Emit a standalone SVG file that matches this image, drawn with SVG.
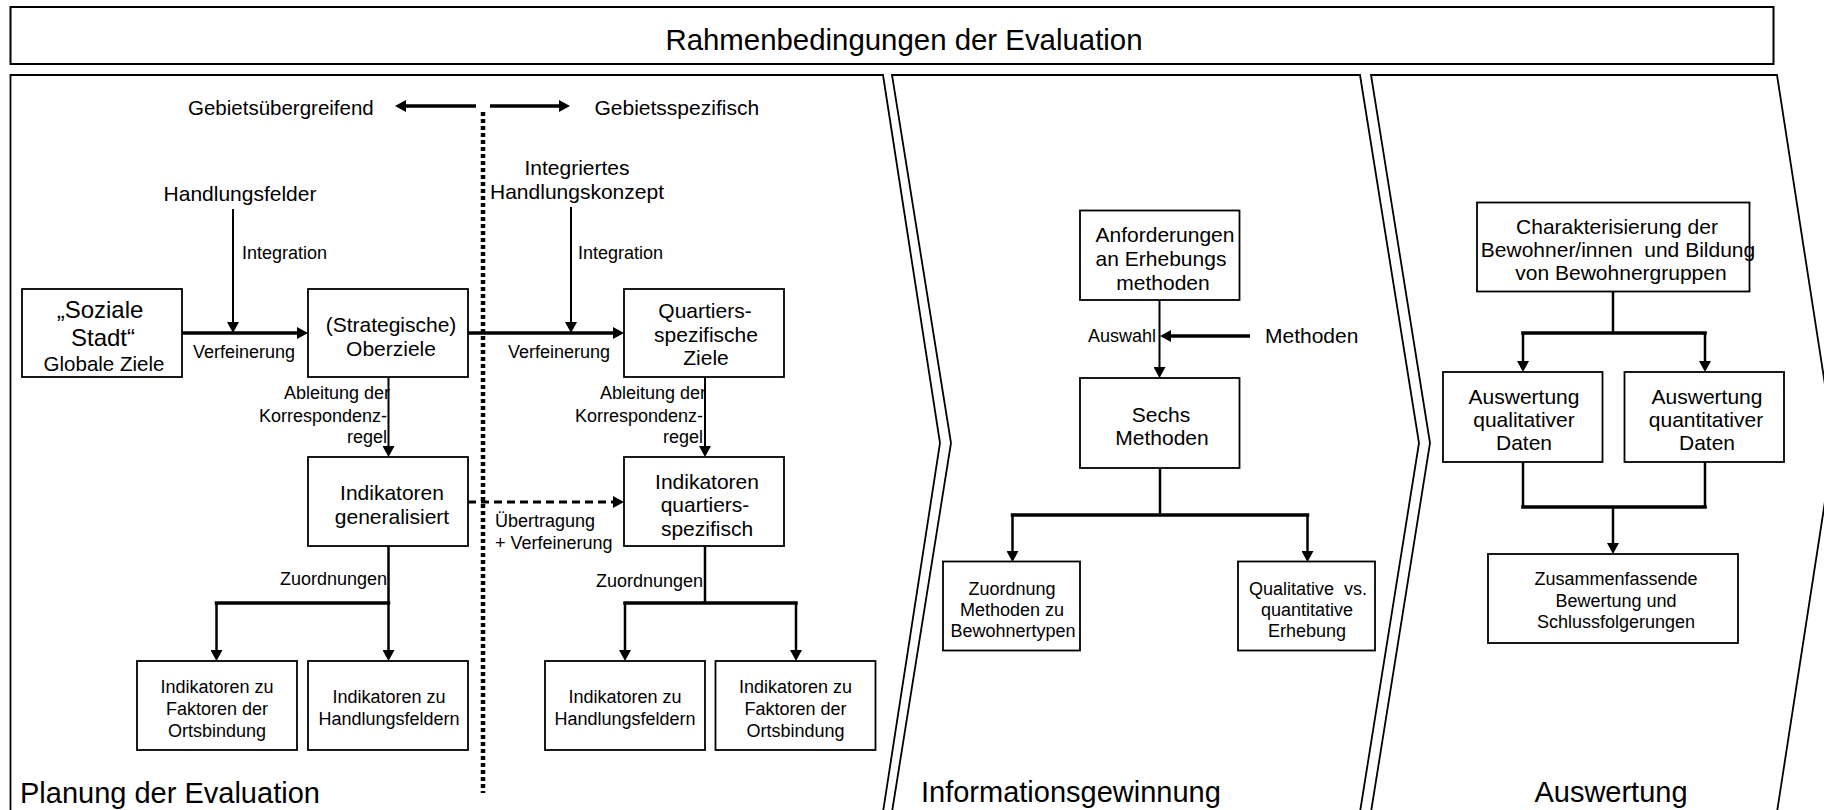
<svg xmlns="http://www.w3.org/2000/svg" width="1824" height="810" viewBox="0 0 1824 810">
<style>
text{font-family:"Liberation Sans",Arial,Helvetica,sans-serif;fill:#000}
.c{text-anchor:middle}
.e{text-anchor:end}
.t{font-size:29.4px}
.sec{font-size:29px}
.m{font-size:21px}
.s{font-size:18px}
.box{fill:#fff;stroke:#000;stroke-width:1.8}
.panel{fill:none;stroke:#000;stroke-width:1.8;stroke-linejoin:miter}
.thick{fill:none;stroke:#000;stroke-width:3.5}
.thin{fill:none;stroke:#000;stroke-width:2}
.mid{fill:none;stroke:#000;stroke-width:2.5}
</style>
<defs>
<marker id="ah" viewBox="0 0 11 12" refX="5" refY="6" markerWidth="11" markerHeight="12" markerUnits="userSpaceOnUse" orient="auto"><path d="M0,0 L11,6 L0,12 z" fill="#000"/></marker>
</defs>
<rect width="1824" height="810" fill="#fff"/>

<g id="frame">
<rect id="rahmen" x="10.5" y="7" width="1763" height="57" fill="#fff" stroke="#000" stroke-width="2"/>
<text class="t c" x="904" y="50">Rahmenbedingungen der Evaluation</text>
<path class="panel" d="M10.5,812 V75 H883 L940,443 L883,812"/>
<path class="panel" d="M892,812 L951,443 L892,75 H1360 L1419,443 L1360,812"/>
<path class="panel" d="M1371,812 L1430,443 L1371,75 H1777 L1834,443 L1777,812"/>
<text class="sec" x="20" y="803">Planung der Evaluation</text>
<text class="sec" x="921" y="802">Informationsgewinnung</text>
<text class="sec c" x="1611" y="802">Auswertung</text>
</g>

<g id="connectors">
<path class="thick" d="M476,106 H401" marker-end="url(#ah)"/>
<path class="thick" d="M490,106 H564" marker-end="url(#ah)"/>
<path d="M483,112 V793" fill="none" stroke="#000" stroke-width="4.5" stroke-dasharray="4 3"/>
<path class="thick" d="M182,333 H302" marker-end="url(#ah)"/>
<path class="thin" d="M233,209 V327" marker-end="url(#ah)"/>
<path class="thick" d="M468,333 H618" marker-end="url(#ah)"/>
<path class="thin" d="M571,207 V327" marker-end="url(#ah)"/>
<path class="thin" d="M388.5,377 V451" marker-end="url(#ah)"/>
<path class="thin" d="M705,377 V451" marker-end="url(#ah)"/>
<path d="M468,502 H618" fill="none" stroke="#000" stroke-width="3" stroke-dasharray="8 5" marker-end="url(#ah)"/>
<path class="mid" d="M388.5,546 V655" marker-end="url(#ah)"/>
<path class="thick" d="M216.5,603 H388.5" stroke-linecap="square"/>
<path class="mid" d="M216.5,603 V655" marker-end="url(#ah)"/>
<path class="mid" d="M705,546 V603"/>
<path class="thick" d="M625,603 H796" stroke-linecap="square"/>
<path class="mid" d="M625,603 V655" marker-end="url(#ah)"/>
<path class="mid" d="M796,603 V655" marker-end="url(#ah)"/>
<path class="thin" d="M1159.5,300 V372" marker-end="url(#ah)"/>
<path class="thick" d="M1250,336 H1166" marker-end="url(#ah)"/>
<path class="mid" d="M1160,468 V515"/>
<path class="thick" d="M1012.5,515 H1307.5" stroke-linecap="square"/>
<path class="mid" d="M1012.5,515 V556" marker-end="url(#ah)"/>
<path class="mid" d="M1307.5,515 V556" marker-end="url(#ah)"/>
<path class="mid" d="M1613,292 V333"/>
<path class="thick" d="M1523,333 H1705" stroke-linecap="square"/>
<path class="mid" d="M1523,333 V366" marker-end="url(#ah)"/>
<path class="mid" d="M1705,333 V366" marker-end="url(#ah)"/>
<path class="mid" d="M1523,462 V507"/>
<path class="mid" d="M1705,462 V507"/>
<path class="thick" d="M1523,507 H1705" stroke-linecap="square"/>
<path class="mid" d="M1613,507 V548" marker-end="url(#ah)"/>
</g>

<g id="labels">
<text class="m" x="188" y="115" style="font-size:20.5px">Gebietsübergreifend</text>
<text class="m" x="594.5" y="115">Gebietsspezifisch</text>
<text class="m c" x="240" y="201">Handlungsfelder</text>
<text class="m c" x="577" y="175">Integriertes</text>
<text class="m c" x="577" y="199">Handlungskonzept</text>
<text class="s" x="242" y="259">Integration</text>
<text class="s" x="578" y="259">Integration</text>
<text class="s c" x="244" y="358">Verfeinerung</text>
<text class="s c" x="559" y="358">Verfeinerung</text>
<text class="s e" x="390" y="399">Ableitung der</text>
<text class="s e" x="387" y="421.5">Korrespondenz-</text>
<text class="s e" x="387" y="443">regel</text>
<text class="s e" x="706" y="399">Ableitung der</text>
<text class="s e" x="703" y="421.5">Korrespondenz-</text>
<text class="s e" x="703" y="443">regel</text>
<text class="s" x="495" y="527">Übertragung</text>
<text class="s" x="495" y="548.5">+ Verfeinerung</text>
<text class="s e" x="387" y="585">Zuordnungen</text>
<text class="s e" x="703" y="587">Zuordnungen</text>
<text class="s e" x="1156" y="342">Auswahl</text>
<text class="m" x="1265" y="343">Methoden</text>
</g>

<g id="n-soziale-stadt">
<rect class="box" x="22" y="289" width="160" height="88"/>
<text class="c" x="100" y="318" style="font-size:24px">„Soziale</text>
<text class="c" x="103" y="346" style="font-size:24px">Stadt“</text>
<text class="c" x="104" y="371" style="font-size:20.5px">Globale Ziele</text>
</g>
<g id="n-oberziele">
<rect class="box" x="308" y="289" width="160" height="88"/>
<text class="m c" x="391" y="331.5">(Strategische)</text>
<text class="m c" x="391" y="355.5">Oberziele</text>
</g>
<g id="n-quartiersziele">
<rect class="box" x="624" y="289" width="160" height="88"/>
<text class="m c" x="705" y="318">Quartiers-</text>
<text class="m c" x="706" y="341.5">spezifische</text>
<text class="m c" x="706" y="365">Ziele</text>
</g>
<g id="n-ind-generalisiert">
<rect class="box" x="308" y="457" width="160" height="89"/>
<text class="m c" x="392" y="500">Indikatoren</text>
<text class="m c" x="392" y="523.5">generalisiert</text>
</g>
<g id="n-ind-quartiersspezifisch">
<rect class="box" x="624" y="457" width="160" height="89"/>
<text class="m c" x="707" y="489">Indikatoren</text>
<text class="m c" x="705" y="512">quartiers-</text>
<text class="m c" x="707" y="535.5">spezifisch</text>
</g>
<g id="n-l-ortsbindung">
<rect class="box" x="137" y="661" width="160" height="89"/>
<text class="s c" x="217" y="692.5">Indikatoren zu</text>
<text class="s c" x="217" y="715">Faktoren der</text>
<text class="s c" x="217" y="736.5">Ortsbindung</text>
</g>
<g id="n-l-handlungsfelder">
<rect class="box" x="308" y="661" width="160" height="89"/>
<text class="s c" x="389" y="703">Indikatoren zu</text>
<text class="s c" x="389" y="724.5">Handlungsfeldern</text>
</g>
<g id="n-r-handlungsfelder">
<rect class="box" x="545" y="661" width="160" height="89"/>
<text class="s c" x="625" y="703">Indikatoren zu</text>
<text class="s c" x="625" y="724.5">Handlungsfeldern</text>
</g>
<g id="n-r-ortsbindung">
<rect class="box" x="715.5" y="661" width="160" height="89"/>
<text class="s c" x="795.5" y="692.5">Indikatoren zu</text>
<text class="s c" x="795.5" y="715">Faktoren der</text>
<text class="s c" x="795.5" y="736.5">Ortsbindung</text>
</g>

<g id="n-anforderungen">
<rect class="box" x="1080" y="210.5" width="159.5" height="89.5"/>
<text class="m c" x="1165" y="241.5">Anforderungen</text>
<text class="m c" x="1161" y="265.5">an Erhebungs</text>
<text class="m c" x="1163" y="289.5">methoden</text>
</g>
<g id="n-sechs-methoden">
<rect class="box" x="1080" y="378" width="159.5" height="90"/>
<text class="m c" x="1161" y="421.5">Sechs</text>
<text class="m c" x="1162" y="445">Methoden</text>
</g>
<g id="n-zuordnung-methoden">
<rect class="box" x="943" y="561.5" width="137" height="89"/>
<text class="s c" x="1012" y="595">Zuordnung</text>
<text class="s c" x="1012" y="615.5">Methoden zu</text>
<text class="s c" x="1013" y="636.5">Bewohnertypen</text>
</g>
<g id="n-qual-quant">
<rect class="box" x="1238" y="561.5" width="137" height="89"/>
<text class="s c" x="1308" y="594.5" xml:space="preserve">Qualitative  vs.</text>
<text class="s c" x="1307" y="615.5">quantitative</text>
<text class="s c" x="1307" y="636.5">Erhebung</text>
</g>

<g id="n-charakterisierung">
<rect class="box" x="1477" y="202.5" width="272.5" height="89"/>
<text class="m c" x="1617" y="233.5">Charakterisierung der</text>
<text class="m c" x="1618" y="257" xml:space="preserve">Bewohner/innen  und Bildung</text>
<text class="m c" x="1621" y="280">von Bewohnergruppen</text>
</g>
<g id="n-qualitativ">
<rect class="box" x="1443" y="372" width="159.5" height="90"/>
<text class="m c" x="1524" y="403.5">Auswertung</text>
<text class="m c" x="1524" y="427">qualitativer</text>
<text class="m c" x="1524" y="450">Daten</text>
</g>
<g id="n-quantitativ">
<rect class="box" x="1624.5" y="372" width="159.5" height="90"/>
<text class="m c" x="1707" y="403.5">Auswertung</text>
<text class="m c" x="1706" y="427">quantitativer</text>
<text class="m c" x="1707" y="450">Daten</text>
</g>
<g id="n-zusammenfassend">
<rect class="box" x="1488" y="554" width="250" height="89"/>
<text class="s c" x="1616" y="585">Zusammenfassende</text>
<text class="s c" x="1616" y="606.5">Bewertung und</text>
<text class="s c" x="1616" y="628">Schlussfolgerungen</text>
</g>
</svg>
